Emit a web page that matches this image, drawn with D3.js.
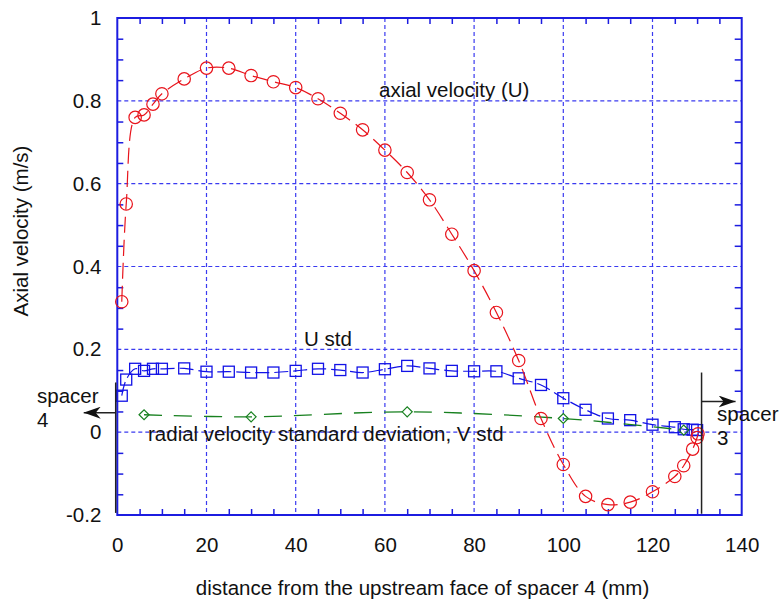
<!DOCTYPE html>
<html>
<head>
<meta charset="utf-8">
<script src="https://cdn.jsdelivr.net/npm/d3@7"></script>
<style>
  html, body { margin: 0; padding: 0; background: #fff; }
  svg { display: block; }
  text { font-family: "Liberation Sans", Arial, sans-serif; fill: #111; }
</style>
</head>
<body>
<svg id="chart" width="781" height="601"></svg>
<script>
// Axial velocity profile between spacer 4 and spacer 3 (mm, m/s)
const uX = [1, 2, 4, 6, 8, 10, 15, 20, 25, 30, 35, 40, 45, 50, 55, 60, 65, 70, 75, 80,
            85, 90, 95, 100, 105, 110, 115, 120, 125, 127, 129, 130, 130.2];
const uMean = [0.315, 0.551, 0.760, 0.766, 0.792, 0.817, 0.853, 0.879, 0.879, 0.861, 0.846,
               0.832, 0.805, 0.770, 0.730, 0.681, 0.627, 0.561, 0.478, 0.390, 0.289, 0.173,
               0.033, -0.078, -0.155, -0.175, -0.169, -0.144, -0.107, -0.081, -0.041, -0.013, -0.004];

// Axial velocity standard deviation
const stdX = [1, 2, 4, 6, 8, 10, 15, 20, 25, 30, 35, 40, 45, 50, 55, 60, 65, 70, 75, 80,
              85, 90, 95, 100, 105, 110, 115, 120, 125, 127, 129, 130];
const uStd = [0.088, 0.127, 0.153, 0.148, 0.153, 0.153, 0.154, 0.146, 0.146, 0.144, 0.144,
              0.148, 0.153, 0.150, 0.144, 0.152, 0.160, 0.154, 0.148, 0.147, 0.147, 0.130,
              0.114, 0.082, 0.054, 0.033, 0.029, 0.018, 0.012, 0.007, 0.006, 0.005];

// Radial velocity standard deviation
const vX = [6, 30, 65, 100, 127];
const vStd = [0.042, 0.037, 0.049, 0.033, 0.005];

// Axis ticks
const xTicks = [0, 20, 40, 60, 80, 100, 120, 140];
const yTicks = [-0.2, 0, 0.2, 0.4, 0.6, 0.8, 1];
const yTickLabels = ["-0.2", "0", "0.2", "0.4", "0.6", "0.8", "1"];

const svg = d3.select("#chart");
const L = 117.3, R = 741.7, T = 18, B = 515;
const FS = 20.5;

const x = d3.scaleLinear().domain([0, 140]).range([L, R]);
const y = d3.scaleLinear().domain([-0.2, 1]).range([B, T]);

const frameColor = "#1c1ce0";
const gridColor = "#3a3af0";

// Grid
const grid = svg.append("g");
grid.selectAll("line.gx").data(xTicks.slice(1, -1)).join("line")
  .attr("x1", d => x(d)).attr("x2", d => x(d)).attr("y1", T).attr("y2", B)
  .attr("stroke", gridColor).attr("stroke-width", 1.2).attr("stroke-dasharray", "4,3");
grid.selectAll("line.gy").data(yTicks.slice(1, -1)).join("line")
  .attr("y1", d => y(d)).attr("y2", d => y(d)).attr("x1", L).attr("x2", R)
  .attr("stroke", gridColor).attr("stroke-width", 1.2).attr("stroke-dasharray", "4,3");

// Inward ticks on all four sides
const xMinor = d3.range(0, 141, 5).filter(v => v % 20 !== 0);
const yMinor = d3.range(-0.2, 1.0001, 0.05).map(v => +v.toFixed(2))
  .filter(v => Math.abs(Math.round(v / 0.2) * 0.2 - v) > 1e-6);

function styleAxis(g) {
  g.select(".domain").remove();
  g.selectAll(".tick line").attr("stroke", frameColor).attr("stroke-width", 1.5);
}
svg.append("g").attr("transform", `translate(0,${B})`)
  .call(d3.axisBottom(x).tickValues(xMinor).tickSize(-6).tickFormat("")).call(styleAxis);
svg.append("g").attr("transform", `translate(0,${T})`)
  .call(d3.axisTop(x).tickValues(xMinor).tickSize(-6).tickFormat("")).call(styleAxis);
svg.append("g").attr("transform", `translate(${L},0)`)
  .call(d3.axisLeft(y).tickValues(yMinor).tickSize(-6).tickFormat("")).call(styleAxis);
svg.append("g").attr("transform", `translate(${R},0)`)
  .call(d3.axisRight(y).tickValues(yMinor).tickSize(-7).tickFormat("")).call(styleAxis);

// Tick labels
const xAxis = svg.append("g").attr("transform", `translate(0,${B})`)
  .call(d3.axisBottom(x).tickValues(xTicks).tickSize(0).tickPadding(22).tickFormat(d3.format("d")));
xAxis.select(".domain").remove();
xAxis.selectAll("text").attr("font-size", FS).attr("fill", "#111")
  .attr("font-family", '"Liberation Sans", Arial, sans-serif');

const yAxis = svg.append("g").attr("transform", `translate(${L},0)`)
  .call(d3.axisLeft(y).tickValues(yTicks).tickSize(0).tickPadding(16)
    .tickFormat((d, i) => yTickLabels[i]));
yAxis.select(".domain").remove();
yAxis.selectAll("text").attr("font-size", FS).attr("fill", "#111")
  .attr("font-family", '"Liberation Sans", Arial, sans-serif');

// Frame
svg.append("rect").attr("x", L).attr("y", T).attr("width", R - L).attr("height", B - T)
  .attr("fill", "none").attr("stroke", frameColor).attr("stroke-width", 2);

// Series
const curve = d3.curveCatmullRom.alpha(0.5);

const redC = "#e8141c", blueC = "#1212e6", greenC = "#17801f";

function series(xs, ys, color, dash, width) {
  const pts = xs.map((v, i) => [v, ys[i]]);
  svg.append("path").datum(pts)
    .attr("d", d3.line().x(d => x(d[0])).y(d => y(d[1])).curve(curve))
    .attr("fill", "none").attr("stroke", color).attr("stroke-width", width)
    .attr("stroke-dasharray", dash);
  return pts;
}

const stdPts = series(stdX, uStd, blueC, "14,5", 1.2);
svg.append("g").selectAll("rect").data(stdPts).join("rect")
  .attr("x", d => x(d[0]) - 5.5).attr("y", d => y(d[1]) - 5.5)
  .attr("width", 11).attr("height", 11)
  .attr("fill", "none").attr("stroke", blueC).attr("stroke-width", 1.3);

const vPts = series(vX, vStd, greenC, "18,12", 1.3);
svg.append("g").selectAll("path").data(vPts).join("path")
  .attr("d", d => `M${x(d[0]) - 5},${y(d[1])}L${x(d[0])},${y(d[1]) - 5}L${x(d[0]) + 5},${y(d[1])}L${x(d[0])},${y(d[1]) + 5}Z`)
  .attr("fill", "none").attr("stroke", greenC).attr("stroke-width", 1.2);

const uPts = series(uX, uMean, redC, "16,7", 1.2);
svg.append("g").selectAll("circle").data(uPts).join("circle")
  .attr("cx", d => x(d[0])).attr("cy", d => y(d[1])).attr("r", 6.2)
  .attr("fill", "none").attr("stroke", redC).attr("stroke-width", 1.2);

// Spacer faces and arrows
const defs = svg.append("defs");
defs.append("marker").attr("id", "arrow").attr("viewBox", "0 0 17 12")
  .attr("refX", 17).attr("refY", 6).attr("markerWidth", 17).attr("markerHeight", 12)
  .attr("markerUnits", "userSpaceOnUse").attr("orient", "auto")
  .append("path").attr("d", "M0,0L17,6L0,12L5,6Z").attr("fill", "#111");

const ann = svg.append("g").attr("stroke", "#222").attr("stroke-width", 1.5);
const leftFace = x(0) - 1.6, rightFace = x(131);
ann.append("line").attr("x1", leftFace).attr("x2", leftFace).attr("y1", y(0.12)).attr("y2", y(-0.195));
ann.append("line").attr("x1", leftFace).attr("x2", leftFace - 32).attr("y1", y(0.047)).attr("y2", y(0.047))
  .attr("marker-end", "url(#arrow)");
ann.append("line").attr("x1", rightFace).attr("x2", rightFace + 34).attr("y1", y(0.074)).attr("y2", y(0.074))
  .attr("marker-end", "url(#arrow)");
ann.append("line").attr("x1", rightFace).attr("x2", rightFace).attr("y1", y(0.144)).attr("y2", y(-0.197));

// Text annotations
function label(tx, ty, s) {
  svg.append("text").attr("x", tx).attr("y", ty).attr("font-size", FS).text(s);
}
label(37, 403, "spacer");
label(37, 427, "4");
label(717, 421, "spacer");
label(717, 445, "3");
label(379, 97, "axial velocity (U)");
label(304, 346, "U std");
label(148, 441, "radial velocity standard deviation, V std");

// Axis titles
svg.append("text").attr("x", 422.5).attr("y", 595).attr("text-anchor", "middle")
  .attr("font-size", FS).text("distance from the upstream face of spacer 4 (mm)");
svg.append("text").attr("transform", "translate(28,231) rotate(-90)").attr("text-anchor", "middle")
  .attr("font-size", FS).text("Axial velocity (m/s)");
</script>
</body>
</html>
